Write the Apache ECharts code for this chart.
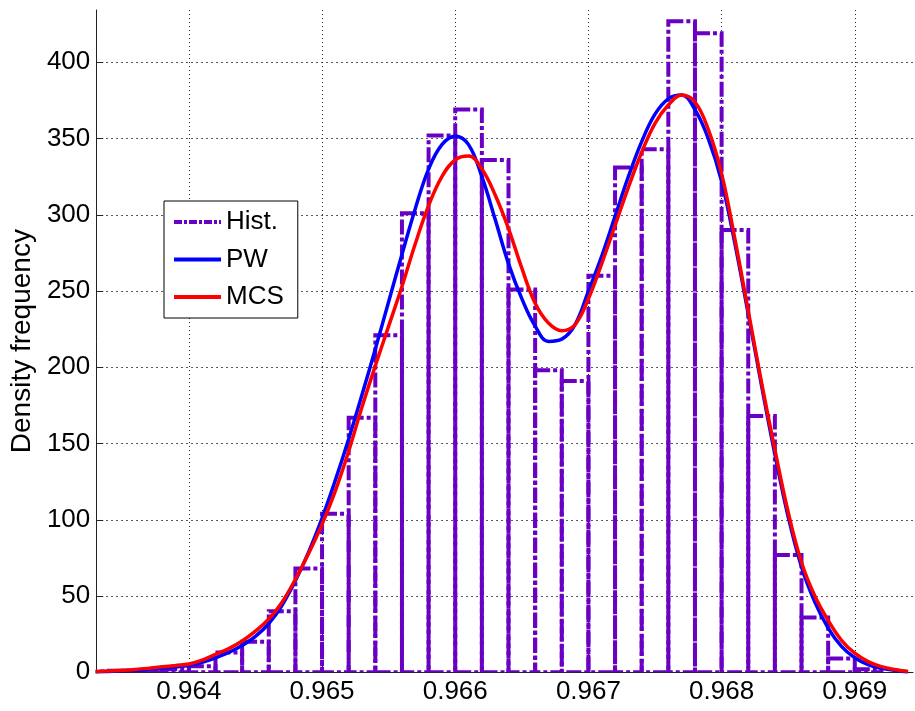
<!DOCTYPE html>
<html>
<head>
<meta charset="utf-8">
<script src="https://cdn.jsdelivr.net/npm/echarts@6/dist/echarts.min.js"></script>
<style>
html,body{margin:0;padding:0;background:#fff;}
#chart{width:915px;height:711px;}
</style>
</head>
<body>
<div id="chart"></div>
<script>
// ---- data ----
var histEdges = [0.9632,0.9634,0.9636,0.9638,0.9640,0.9642,0.9644,0.9646,0.9648,0.9650,
                 0.9652,0.9654,0.9656,0.9658,0.9660,0.9662,0.9664,0.9666,0.9668,0.9670,
                 0.9672,0.9674,0.9676,0.9678,0.9680,0.9682,0.9684,0.9686,0.9688,0.9690,0.9692];
var histCounts = [0.5,1,1,2,4,13,20,40,68,104,
                  167,221,301,352,369,336,251,198,191,260,
                  331,343,427,419,290,168,77,36,9,2];

var curveX = [0.9633,0.9634,0.9635,0.9636,0.9637,0.9638,0.9639,0.9640,0.9641,0.9642,
              0.9643,0.9644,0.9645,0.9646,0.9647,0.9648,0.9649,0.9650,0.9651,0.9652,
              0.9653,0.9654,0.9655,0.9656,0.9657,0.9658,0.9659,0.9660,0.9661,0.9662,
              0.9663,0.9664,0.9665,0.9666,0.9667,0.9668,0.9669,0.9670,0.9671,0.9672,
              0.9673,0.9674,0.9675,0.9676,0.9677,0.9678,0.9679,0.9680,0.9681,0.9682,
              0.9683,0.9684,0.9685,0.9686,0.9687,0.9688,0.9689,0.9690,0.9691,0.9692,
              0.9693,0.9694];
var pwValues = [0.3,0.6,1.0,1.4,2.0,2.7,3.5,4.5,6.5,9.5,
                13,17.5,23.5,32,44,60,79,101,126,153,
                182,212,243,274,304,330,346,351.5,346,325,
                297,268,245,227,217,218.5,228,250,273,299,
                325,348,366,376,378.5,369,350,322,281,235,
                188,143,102,69,46,29,17,9.5,5,2.6,
                1.2,0.4];
var mcsValues = [0.5,0.9,1.3,1.9,2.7,3.6,4.5,5.5,8,11.8,
                 15.5,20.5,27,35,46,61,78,97,119,145,
                 174,201,227,253,281,306,325,336,338.5,330,
                 313,291,265,242,229,224,228,245,268,293,
                 318,341,360,372,378.5,374,356,327,284,237,
                 190,146,105,72,50,34,21,12.5,7,3.7,
                 1.8,0.6];

var xTicks = [0.964,0.965,0.966,0.967,0.968,0.969];
var yTicks = [0,50,100,150,200,250,300,350,400];
var seriesNames = ['Hist.','PW','MCS'];
var yAxisTitle = 'Density frequency';

// ---- chart ----
var PURPLE = '#6a00c4';
var FONT = 'Liberation Sans, Arial, sans-serif';

var histData = histCounts.map(function (c, i) { return [histEdges[i], histEdges[i + 1], c]; });
var pwData = curveX.map(function (x, i) { return [x, pwValues[i]]; });
var mcsData = curveX.map(function (x, i) { return [x, mcsValues[i]]; });

var chart = echarts.init(document.getElementById('chart'), null, {renderer: 'canvas'});
chart.setOption({
  animation: false,
  backgroundColor: '#fff',
  grid: {left: 95, right: 2, top: 10, bottom: 38.7, containLabel: false},
  legend: {
    orient: 'vertical', left: 164, top: 201,
    data: seriesNames,
    itemWidth: 47, itemHeight: 14, itemGap: 7.5,
    padding: [6, 14, 6, 8],
    backgroundColor: '#fff', borderColor: '#000', borderWidth: 1, borderRadius: 0,
    itemStyle: {color: 'rgba(0,0,0,0)', borderWidth: 0, opacity: 0},
    lineStyle: {width: 4},
    textStyle: {fontSize: 26, fontFamily: FONT, color: '#000', lineHeight: 30}
  },
  xAxis: {
    type: 'value',
    min: 0.963305, max: 0.969437,
    splitNumber: 6, minInterval: 0.001, maxInterval: 0.001,
    axisLine: {show: true, onZero: false, lineStyle: {color: '#222', width: 1}},
    axisTick: {show: true, inside: true, length: 7, customValues: xTicks, lineStyle: {color: '#222'}},
    axisLabel: {
      show: true, margin: 7, fontSize: 26, fontFamily: FONT, color: '#000',
      customValues: xTicks,
      formatter: function (v) { return v.toFixed(3); }
    },
    splitLine: {show: true, lineStyle: {color: '#222', width: 1, type: [1, 3]}}
  },
  yAxis: {
    type: 'value',
    min: 0, max: 434.3, interval: 50,
    name: yAxisTitle, nameLocation: 'middle', nameGap: 57,
    nameTextStyle: {fontSize: 28, fontFamily: FONT, color: '#000'},
    axisLine: {show: true, lineStyle: {color: '#222', width: 1}},
    axisTick: {show: true, inside: true, length: 7, customValues: yTicks, lineStyle: {color: '#222'}},
    axisLabel: {
      show: true, margin: 6, fontSize: 26, fontFamily: FONT, color: '#000',
      customValues: yTicks,
      formatter: function (v) { return String(Math.round(v)); }
    },
    splitLine: {show: true, lineStyle: {color: '#222', width: 1, type: [1.5, 3.5]}}
  },
  series: [
    {
      name: 'Hist.', type: 'line', data: [], symbol: 'none',
      lineStyle: {color: PURPLE, width: 4, type: [8, 2, 3, 2]},
      itemStyle: {color: PURPLE}
    },
    {
      name: 'Hist.', type: 'custom', clip: true,
      itemStyle: {color: PURPLE},
      encode: {x: [0, 1], y: 2},
      data: histData,
      renderItem: function (params, api) {
        var p0 = api.coord([api.value(0), 0]);
        var p1 = api.coord([api.value(1), api.value(2)]);
        return {
          type: 'rect',
          shape: {x: p0[0], y: p1[1], width: p1[0] - p0[0], height: p0[1] - p1[1]},
          style: {fill: 'none', stroke: PURPLE, lineWidth: 4, lineDash: [15, 3, 4, 3]}
        };
      }
    },
    {
      name: 'PW', type: 'line', data: pwData, smooth: 0.4, symbol: 'none', showSymbol: false,
      lineStyle: {color: '#0000ff', width: 3.5}, itemStyle: {color: '#0000ff'}
    },
    {
      name: 'MCS', type: 'line', data: mcsData, smooth: 0.4, symbol: 'none', showSymbol: false,
      lineStyle: {color: '#ff0000', width: 3.5}, itemStyle: {color: '#ff0000'}
    }
  ]
});
</script>
</body>
</html>
